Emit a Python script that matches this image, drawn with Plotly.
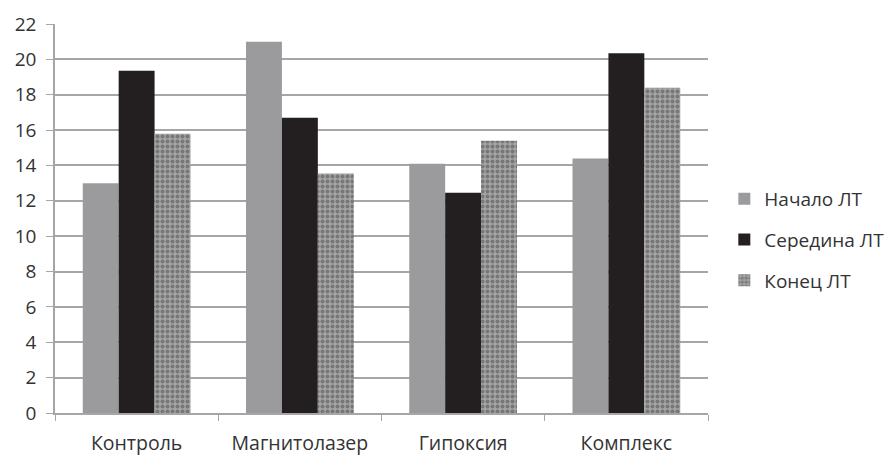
import plotly.graph_objects as go

categories = ["Контроль", "Магнитолазер", "Гипоксия", "Комплекс"]
series_names = ["Начало ЛТ", "Середина ЛТ", "Конец ЛТ"]
start_vals = [13.0, 21.0, 14.1, 14.4]
mid_vals = [19.35, 16.7, 12.45, 20.35]
end_vals = [15.8, 13.55, 15.4, 18.4]

fig = go.Figure()
fig.add_trace(go.Bar(x=categories, y=start_vals, name=series_names[0],
                     marker=dict(color="#9b9b9d", line=dict(width=0)), legendgroup="a"))
fig.add_trace(go.Bar(x=categories, y=mid_vals, name=series_names[1],
                     marker=dict(color="#231f20", line=dict(width=0)), legendgroup="b"))
fig.add_trace(go.Bar(x=categories, y=end_vals, name=series_names[2],
                     marker=dict(color="#8a8a8a", line=dict(width=0),
                                 pattern=dict(shape=".", bgcolor="#a4a4a4", fgcolor="#4a4a4a",
                                              size=5, solidity=0.5, fillmode="overlay")),
                     legendgroup="c"))

fig.update_layout(
    width=887, height=456,
    margin=dict(l=55, r=179, t=24, b=43, autoexpand=False),
    paper_bgcolor="white", plot_bgcolor="white",
    barmode="group", bargap=0.34, bargroupgap=0,
    font=dict(family="Open Sans", size=19, color="#333333"),
    legend=dict(x=1.025, y=0.445, yanchor="middle", xanchor="left",
                font=dict(size=19, color="#333333"),
                tracegroupgap=13, itemwidth=30),
    showlegend=True,
)
fig.update_yaxes(range=[0, 22], dtick=2, showgrid=True, gridcolor="#a6a6a6", gridwidth=1.5,
                 showline=True, linecolor="#a6a6a6", linewidth=1.5, automargin=False,
                 ticks="outside", ticklen=7, tickcolor="#a6a6a6", zeroline=False,
                 ticklabelstandoff=6, tickfont=dict(size=19))
fig.update_xaxes(showline=True, linecolor="#a6a6a6", linewidth=1.5, automargin=False,
                 ticks="outside", ticklen=6, tickcolor="#a6a6a6", tickson="boundaries",
                 ticklabelstandoff=12, tickfont=dict(size=19.5))

fig.write_html("out.html", post_script="document.body.style.margin='0';",
               config={"displayModeBar": False})
